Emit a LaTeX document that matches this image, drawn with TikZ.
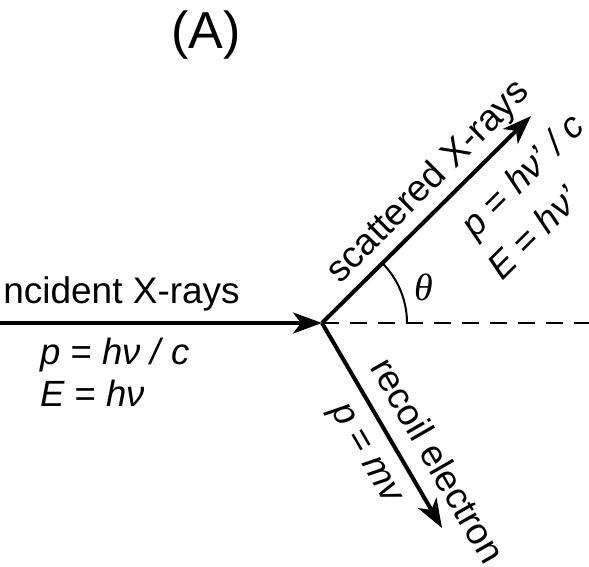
\documentclass[tikz,border=0pt]{standalone}
\usepackage{fontspec}
\setmainfont{Liberation Sans}
\newfontfamily\thetafont{Liberation Serif}
\usetikzlibrary{arrows.meta,calc}
\begin{document}
\begin{tikzpicture}[x=1pt,y=1pt,
  ray/.style={line width=4pt,-{Stealth[length=29pt,width=21pt,inset=8pt]}},
  lbl/.style={inner sep=0pt,font=\fontsize{37}{44}\selectfont},
  eq/.style={inner sep=0pt,font=\fontsize{36.5}{43}\selectfont\itshape},
  guide/.style={line width=2pt}]
\useasboundingbox (0,0) rectangle (589,-567);
\clip (0,0) rectangle (589,-567);
\coordinate (O) at (322,-323);
\coordinate (In) at (-2,-323);
\coordinate (S) at (531,-116);
\coordinate (R) at (442,-528);
\coordinate (D) at (592,-323);
% title
\node[inner sep=0pt,font=\fontsize{52}{60}\selectfont] (title) at (206,-35) {(A)};
% reference line and angle
\draw[guide,dash pattern=on 17pt off 11pt] (O) -- (D);
\draw[guide] ($(O)+(85,0)$) arc[start angle=0,end angle=45,radius=85];
\node[inner sep=0pt,font=\thetafont\itshape\fontsize{38}{44}\selectfont] (theta) at (424,-287) {θ};
% rays
\draw[ray] (In) -- (O);
\draw[ray] (O) -- (S);
\draw[ray] (O) -- (R);
% incident labels
\node[lbl,anchor=base east] (inc) at (240,-303) {Incident X-rays};
\node[eq,anchor=base west] (incp) at (40,-364) {p = hν / c};
\node[eq,anchor=base west] (ince) at (40,-406) {E = hν};
% scattered labels
\node[lbl,rotate=45] (sca) at ($(O)+(45:175)+(135:24)$) {scattered X-rays};
\node[eq,rotate=45] (scap) at ($(O)+(45:246)+(-45:40)$) {p = hν' / c};
\node[eq,rotate=45] (scae) at ($(O)+(45:213)+(-45:85)$) {E = hν'};
% recoil labels
\node[lbl,rotate=-60] (rec) at ($(O)+(-60:177)+(30:32)$) {recoil electron};
\node[eq,rotate=-60] (recp) at ($(O)+(-60:135)+(-150:30)$) {p = mv};
\end{tikzpicture}
\end{document}
